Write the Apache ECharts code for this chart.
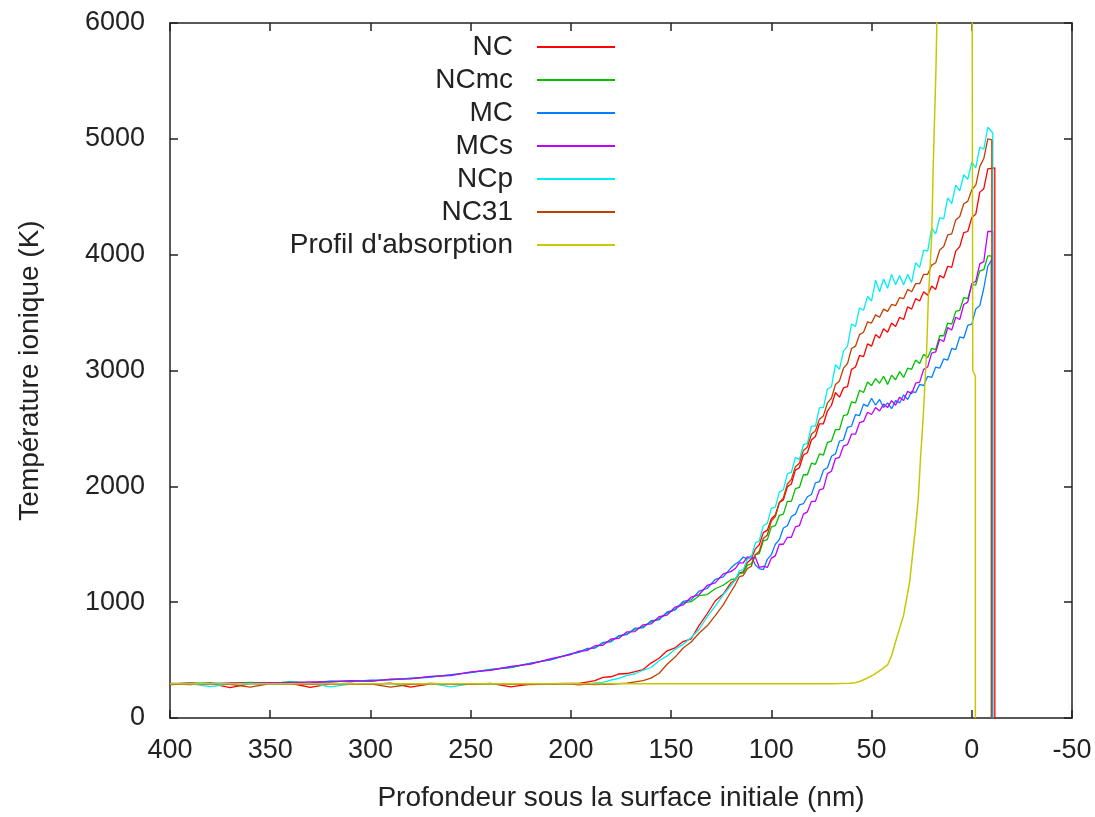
<!DOCTYPE html>
<html>
<head>
<meta charset="utf-8">
<script src="https://cdn.jsdelivr.net/npm/echarts@6/dist/echarts.min.js"></script>
<style>
  html, body { margin: 0; padding: 0; background: #fff; }
  #chart { width: 1095px; height: 817px; }
</style>
</head>
<body>
<div id="chart"></div>
<script>
// profondeur (nm) commune aux 6 simulations
var depth = [
  400, 390, 380, 370, 360, 350, 340, 330, 320, 310, 300, 290, 280, 270, 260, 250, 240, 230, 220, 210, 200,
  196, 192, 188, 184, 180, 176, 172, 168, 164, 160, 156, 152, 148, 144, 140, 136, 132, 128, 124, 120,
  118, 116, 114, 112, 110, 108, 106, 104, 102, 100,
  98, 96, 94, 92, 90, 88, 86, 84, 82, 80,
  78, 76, 74, 72, 70, 68, 66, 64, 62, 60,
  58, 56, 54, 52, 50, 48, 46, 44, 42, 40,
  38, 36, 34, 32, 30, 28, 26, 24, 22, 20,
  18, 16, 14, 12, 10, 8, 6, 4, 2, 0,
  -2, -4, -6, -8
];

var tNC = [
  294, 288, 299, 262, 296, 291, 300, 264, 295, 298, 290, 301, 266, 294, 297, 292, 299, 268, 293, 296, 298,
  298, 310, 322, 350, 356, 380, 384, 400, 418, 474, 516, 580, 606, 660, 684, 800, 900, 1010, 1070, 1170,
  1190, 1250, 1262, 1340, 1372, 1460, 1496, 1600, 1622, 1720,
  1752, 1860, 1882, 1996, 2020, 2140, 2160, 2270, 2290, 2400,
  2430, 2540, 2540, 2650, 2700, 2810, 2770, 2850, 2860, 3010,
  3030, 3130, 3120, 3230, 3210, 3310, 3280, 3360, 3330, 3410,
  3380, 3460, 3440, 3550, 3530, 3620, 3600, 3680, 3650, 3730,
  3700, 3820, 3800, 3900, 3890, 4030, 4070, 4190, 4200, 4320,
  4350, 4540, 4570, 4740
];
var tNCmc = [
  292, 303, 297, 299, 307, 298, 312, 304, 316, 320, 316, 336, 340, 356, 370, 394, 420, 436, 472, 506, 552,
  568, 594, 608, 646, 666, 706, 726, 764, 788, 830, 856, 906, 936, 994, 1004, 1056, 1066, 1116, 1146, 1196,
  1200, 1250, 1250, 1320, 1330, 1410, 1420, 1530, 1540, 1650,
  1660, 1750, 1760, 1870, 1870, 1980, 1990, 2100, 2100, 2200,
  2190, 2280, 2270, 2380, 2390, 2490, 2490, 2610, 2620, 2730,
  2720, 2830, 2810, 2900, 2870, 2930, 2890, 2950, 2880, 2960,
  2920, 2990, 2940, 3020, 3010, 3090, 3060, 3140, 3110, 3190,
  3180, 3300, 3300, 3410, 3400, 3510, 3520, 3630, 3620, 3740,
  3740, 3860, 3870, 3990
];
var tMC = [
  298, 294, 302, 297, 305, 301, 310, 306, 318, 314, 326, 330, 344, 352, 374, 392, 418, 438, 474, 502, 556,
  566, 600, 604, 652, 658, 712, 720, 776, 778, 840, 848, 916, 934, 1006, 1020, 1096, 1118, 1196, 1218, 1298,
  1330, 1350, 1390, 1370, 1400, 1320, 1290, 1280, 1370, 1410,
  1500, 1540, 1640, 1660, 1740, 1760, 1840, 1850, 1910, 1930,
  2030, 2040, 2140, 2160, 2260, 2280, 2390, 2400, 2510, 2520,
  2620, 2610, 2710, 2690, 2760, 2700, 2750, 2680, 2720, 2670,
  2740, 2720, 2790, 2750, 2820, 2810, 2880, 2870, 2950, 2940,
  3030, 3020, 3100, 3090, 3190, 3180, 3290, 3280, 3390, 3400,
  3530, 3560, 3710, 3900
];
var tMCs = [
  296, 301, 293, 304, 299, 306, 302, 311, 309, 322, 318, 334, 338, 359, 366, 398, 412, 446, 466, 512, 548,
  578, 582, 624, 628, 682, 688, 744, 746, 804, 812, 874, 888, 958, 976, 1044, 1066, 1144, 1166, 1244, 1266,
  1290, 1340, 1340, 1390, 1380, 1390, 1300, 1310, 1300, 1380,
  1400, 1500, 1500, 1560, 1560, 1650, 1660, 1760, 1780, 1870,
  1870, 1970, 1980, 2110, 2130, 2240, 2250, 2350, 2360, 2450,
  2450, 2550, 2560, 2640, 2620, 2680, 2650, 2710, 2680, 2740,
  2700, 2770, 2740, 2820, 2800, 2890, 2900, 3010, 3030, 3150,
  3160, 3270, 3250, 3370, 3350, 3460, 3440, 3570, 3590, 3750,
  3770, 3920, 3940, 4200
];
var tNCp = [
  291, 296, 270, 293, 298, 290, 295, 299, 268, 292, 297, 294, 290, 298, 269, 295, 291, 297, 293, 290, 296,
  292, 294, 302, 308, 328, 342, 368, 382, 412, 436, 494, 536, 594, 636, 694, 766, 874, 966, 1064, 1146,
  1190, 1270, 1280, 1370, 1390, 1510, 1530, 1660, 1680, 1810,
  1820, 1950, 1970, 2110, 2120, 2250, 2230, 2360, 2370, 2520,
  2520, 2680, 2680, 2840, 2860, 3050, 3010, 3170, 3210, 3400,
  3380, 3540, 3520, 3640, 3600, 3780, 3680, 3790, 3710, 3830,
  3740, 3820, 3740, 3830, 3760, 3930, 3890, 4040, 4030, 4230,
  4180, 4320, 4310, 4490, 4440, 4600, 4550, 4690, 4650, 4800,
  4750, 4930, 4910, 5100
];
var tNC31 = [
  289, 294, 298, 291, 267, 296, 293, 290, 297, 292, 295, 266, 291, 298, 294, 290, 296, 293, 289, 295, 292,
  286, 292, 288, 293, 290, 296, 301, 312, 322, 344, 386, 464, 526, 604, 656, 734, 796, 884, 976, 1094,
  1150, 1220, 1230, 1290, 1310, 1410, 1440, 1550, 1580, 1700,
  1740, 1860, 1900, 2020, 2060, 2170, 2200, 2310, 2340, 2450,
  2480, 2580, 2610, 2720, 2760, 2880, 2910, 3020, 3060, 3190,
  3210, 3310, 3330, 3420, 3410, 3480, 3460, 3530, 3510, 3570,
  3560, 3630, 3620, 3700, 3680, 3750, 3750, 3830, 3830, 3910,
  3930, 4040, 4070, 4170, 4180, 4300, 4330, 4440, 4460, 4560,
  4600, 4760, 4830, 5000
];

// derniere valeur puis chute a la surface
var endDepth = [-11.5, -9.8, -9.8, -10.4, -10.5, -10];
var endPeak = [4750, 3990, 3950, 4200, 5050, 4990];

// profil d'absorption (mis a l'echelle)
var profDepth = [400, 300, 200, 100, 70, 61, 58, 55, 52, 49, 45, 42, 40, 37.5, 34, 31, 28.3, 26.7, 25.5, 24.2, 22.5, 21.7, 20, 19.2, 17.9, 16, 12, 8, 4, 0, -0.5, -1.8, -1.8];
var profVal = [295, 295, 295, 295, 295, 300, 305, 322, 345, 372, 420, 458, 540, 688, 888, 1175, 1605, 1891, 2264, 2607, 3181, 3610, 4155, 4786, 5588, 7200, 8800, 9400, 9200, 8200, 3000, 2950, 0];

var names = ['NC', 'NCmc', 'MC', 'MCs', 'NCp', 'NC31', "Profil d'absorption"];
var colors = ['#ff0000', '#00c000', '#0080ff', '#c000ff', '#00eeee', '#c04000', '#c8c800'];
var temps = [tNC, tNCmc, tMC, tMCs, tNCp, tNC31];

var font = 'Liberation Sans';
var txt = '#222';
var frame = { color: '#222', width: 1.5 };

function pairs(xs, ys) {
  var out = [];
  for (var i = 0; i < xs.length; i++) out.push([xs[i], ys[i]]);
  return out;
}

var series = [];
for (var k = 0; k < temps.length; k++) {
  var d = pairs(depth, temps[k]);
  d.push([endDepth[k], endPeak[k]]);
  d.push([endDepth[k], 0]);
  series.push({
    name: names[k],
    type: 'line',
    symbol: 'none',
    data: d,
    lineStyle: { width: 1.3, color: colors[k] },
    itemStyle: { color: colors[k] }
  });
}
series.push({
  name: names[6],
  type: 'line',
  symbol: 'none',
  data: pairs(profDepth, profVal),
  lineStyle: { width: 1.5, color: colors[6] },
  itemStyle: { color: colors[6] }
});

var chart = echarts.init(document.getElementById('chart'), null, { renderer: 'canvas' });

var option = {
  animation: false,
  backgroundColor: '#fff',
  textStyle: { fontFamily: font },
  grid: { left: 170, right: 23, top: 23, bottom: 95 },
  legend: {
    orient: 'vertical',
    align: 'right',
    right: 475,
    top: 28,
    itemWidth: 78,
    itemHeight: 2,
    itemGap: 5,
    icon: 'rect',
    data: names,
    textStyle: { fontFamily: font, fontSize: 28, color: txt, lineHeight: 28, padding: [0, 19, 0, 0] }
  },
  xAxis: [
    {
      type: 'value',
      inverse: true,
      min: -50,
      max: 400,
      interval: 50,
      name: 'Profondeur sous la surface initiale (nm)',
      nameLocation: 'middle',
      nameGap: 66,
      nameTextStyle: { fontFamily: font, fontSize: 28, color: txt },
      axisLine: { onZero: false, lineStyle: frame },
      axisTick: { inside: true, length: 8, lineStyle: frame },
      axisLabel: { margin: 19, fontFamily: font, fontSize: 27, color: txt },
      splitLine: { show: false }
    },
    {
      type: 'value',
      position: 'top',
      inverse: true,
      min: -50,
      max: 400,
      interval: 50,
      axisLine: { onZero: false, lineStyle: frame },
      axisTick: { inside: true, length: 8, lineStyle: frame },
      axisLabel: { show: false },
      splitLine: { show: false }
    }
  ],
  yAxis: [
    {
      type: 'value',
      min: 0,
      max: 6000,
      interval: 1000,
      name: 'Température ionique (K)',
      nameLocation: 'middle',
      nameGap: 126,
      nameTextStyle: { fontFamily: font, fontSize: 28, color: txt },
      axisLine: { show: true, onZero: false, lineStyle: frame },
      axisTick: { show: true, inside: true, length: 8, lineStyle: frame },
      axisLabel: { margin: 25, fontFamily: font, fontSize: 27, color: txt, formatter: function (v) { return String(v); } },
      splitLine: { show: false }
    },
    {
      type: 'value',
      position: 'right',
      min: 0,
      max: 6000,
      interval: 1000,
      axisLine: { show: true, onZero: false, lineStyle: frame },
      axisTick: { show: true, inside: true, length: 8, lineStyle: frame },
      axisLabel: { show: false },
      splitLine: { show: false }
    }
  ],
  series: series
};

chart.setOption(option);
</script>
</body>
</html>
